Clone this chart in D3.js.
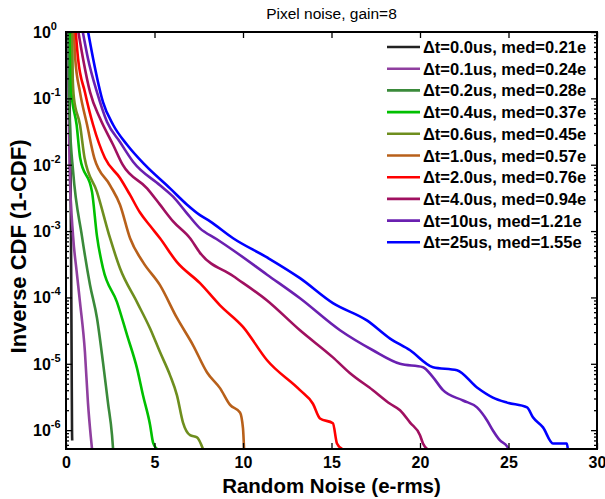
<!DOCTYPE html>
<html><head><meta charset="utf-8">
<script src="https://cdn.jsdelivr.net/npm/d3@7"></script>
<style>body{margin:0;background:#fff}svg{display:block}text{font-family:"Liberation Sans",Arial,sans-serif}</style>
</head><body>
<svg id="c" width="605" height="499"></svg>
<script>
const labels = ["\u0394t=0.0us, med=0.21e","\u0394t=0.1us, med=0.24e","\u0394t=0.2us, med=0.28e","\u0394t=0.4us, med=0.37e","\u0394t=0.6us, med=0.45e","\u0394t=1.0us, med=0.57e","\u0394t=2.0us, med=0.76e","\u0394t=4.0us, med=0.94e","\u0394t=10us, med=1.21e","\u0394t=25us, med=1.55e"];
const colors = ["#222222","#8f3f9f","#3a8a3a","#00c000","#6e8e1e","#b8601a","#ff0000","#a01060","#6a20b0","#0000ff"];
const xTicks = [0,5,10,15,20,25,30];
const yExponents = [0,-1,-2,-3,-4,-5,-6];

const s00 = [[0.1,1],[0.2,0.1],[0.25,0.01],[0.28,1e-3],[0.3,1e-4],[0.32,1e-5],[0.34,1e-6],[0.35,7e-7]];
const s01 = [[0.1,1],[0.14,0.1],[0.2,0.01],[0.4,8.4e-4],[0.6,2.5e-4],[0.79,8.5e-5],[1.07,1.5e-5],[1.24,2.6e-6],[1.4,8e-7],[1.47,5.2e-7]];
const s02 = [[0.15,1],[0.17,0.1],[0.22,0.04],[0.4,0.008],[0.9,8.4e-4],[1.36,1.53e-4],[1.75,4.9e-5],[2.09,1.05e-5],[2.37,2.6e-6],[2.6,8.4e-7],[2.66,5.2e-7]];
const s04 = [[0.25,1],[0.3,0.124],[0.6,0.04],[0.8,0.0126],[1.47,0.0039],[1.75,8.4e-4],[2.09,2.75e-4],[2.88,8.5e-5],[3.45,2.7e-5],[4.01,8.6e-6],[4.35,3.35e-6],[4.75,1.2e-6],[4.92,6.5e-7],[5.14,5.2e-7]];
const s06 = [[0.35,1],[0.38,0.2],[0.45,0.1],[0.79,0.04],[1.05,0.0126],[1.75,0.0039],[2.49,7.8e-4],[3.05,2.75e-4],[4.01,8.5e-5],[4.75,3.4e-5],[5.31,1.5e-5],[5.88,6.7e-6],[6.27,3.35e-6],[6.61,1.3e-6],[7.01,8.4e-7],[7.4,7.8e-7],[7.74,5.2e-7]];
const s10 = [[0.45,1],[0.52,0.4],[0.79,0.124],[1.19,0.04],[1.6,0.0126],[2.49,0.0049],[3.05,0.0025],[3.62,7.8e-4],[4.35,3.4e-4],[5.31,1.53e-4],[6.27,4.9e-5],[7.18,1.9e-5],[7.97,7.4e-6],[8.7,4.3e-6],[9.27,2.4e-6],[9.83,1.85e-6],[10.0,1.06e-6],[10.06,5.2e-7]];
const s20 = [[0.55,1],[0.68,0.4],[1.07,0.124],[1.53,0.04],[2.2,0.0126],[3.05,0.0063],[3.62,0.0035],[4.18,0.0019],[4.75,0.0012],[5.31,7.8e-4],[6.27,3.4e-4],[7.57,1.64e-4],[8.7,7.6e-5],[10.0,3.6e-5],[11.36,1.13e-5],[13.22,4.0e-6],[13.95,2.5e-6],[14.35,1.5e-6],[15.08,1.27e-6],[15.31,6.3e-7],[15.6,5.2e-7]];
const s40 = [[0.7,1],[0.96,0.4],[1.36,0.124],[1.92,0.05],[2.66,0.02],[3.2,0.01],[4.58,0.0044],[5.31,0.0025],[6.05,0.0014],[7.01,7.8e-4],[7.57,4.7e-4],[9.44,2.1e-4],[11.36,9.0e-5],[13.22,3.2e-5],[15.08,1.25e-5],[16.05,7.2e-6],[17.34,4.0e-6],[18.31,2.5e-6],[18.87,2.0e-6],[19.44,1.3e-6],[20.0,8.4e-7],[20.17,6.3e-7],[20.4,5.2e-7]];
const s100 = [[0.95,1],[1.24,0.4],[1.75,0.124],[2.32,0.044],[3.05,0.022],[3.8,0.011],[5.31,0.0049],[6.05,0.0033],[6.8,0.0019],[7.57,0.0011],[8.5,7.6e-4],[9.44,5.15e-4],[11.36,2.2e-4],[13.22,9.7e-5],[15.48,3.2e-5],[17.34,1.6e-5],[18.87,1.0e-5],[20.17,8.9e-6],[20.73,6.3e-6],[21.3,4.0e-6],[22.43,2.8e-6],[23.22,2.2e-6],[23.79,1.4e-6],[24.12,9.9e-7],[24.52,7.0e-7],[24.92,5.7e-7],[25.0,5.2e-7]];
const s250 = [[1.25,1],[1.53,0.4],[2.09,0.088],[2.66,0.04],[3.45,0.02],[4.45,0.01],[5.88,0.0044],[6.84,0.0025],[7.57,0.00174],[8.14,0.0014],[9.44,7.8e-4],[11.36,4.0e-4],[13.22,1.95e-4],[15.08,8.2e-5],[17.0,4.5e-5],[18.31,2.4e-5],[19.44,1.6e-5],[20.73,8.9e-6],[22.09,8.0e-6],[23.22,4.4e-6],[24.12,3.1e-6],[24.92,2.6e-6],[26.05,2.2e-6],[26.38,1.56e-6],[26.95,1.1e-6],[27.51,6.3e-7],[28.3,6.3e-7],[28.35,5.2e-7]];
const series = [s00,s01,s02,s04,s06,s10,s20,s40,s100,s250];

const L=66,R=597,T=32,B=449;
const svg = d3.select("#c");
const x = d3.scaleLinear().domain([0,30]).range([L,R]);
const y = d3.scaleLog().domain([5.2e-7,1]).range([B,T]);

svg.append("defs").append("clipPath").attr("id","clip").append("rect")
  .attr("x",L).attr("y",T).attr("width",R-L).attr("height",B-T);

const line = d3.line().x(d=>x(d[0])).y(d=>y(d[1])).curve(d3.curveMonotoneX);
const g = svg.append("g").attr("clip-path","url(#clip)");
series.forEach((s,i)=>{
  g.append("path").attr("d",line(s)).attr("fill","none")
   .attr("stroke",colors[i]).attr("stroke-width",2.6).attr("stroke-linejoin","round");
});

// axes
const majorY = yExponents.map(e=>Math.pow(10,e));
const minorY = [];
for(let e=-7;e<0;e++){for(let k=2;k<10;k++){const v=k*Math.pow(10,e); if(v>=5.2e-7&&v<1) minorY.push(v);}}

function styleAx(sel){sel.select(".domain").remove(); sel.selectAll("line").attr("stroke","#000").attr("stroke-width",1.3);}
svg.append("g").attr("transform",`translate(0,${B})`).call(d3.axisBottom(x).tickValues(xTicks).tickSize(-6).tickFormat(d3.format("d")))
  .call(styleAx).call(s=>s.selectAll("text").attr("dy",0).attr("y",19).attr("font-size",16).attr("font-weight","bold").attr("fill","#000"));
svg.append("g").attr("transform",`translate(0,${T})`).call(d3.axisTop(x).tickValues(xTicks).tickSize(-6).tickFormat(""))
  .call(styleAx);
svg.append("g").attr("transform",`translate(${L},0)`).call(d3.axisLeft(y).tickValues(majorY).tickSize(-6).tickFormat(""))
  .call(styleAx);
svg.append("g").attr("transform",`translate(${L},0)`).call(d3.axisLeft(y).tickValues(minorY).tickSize(-3).tickFormat(""))
  .call(styleAx);
svg.append("g").attr("transform",`translate(${R},0)`).call(d3.axisRight(y).tickValues(majorY).tickSize(-6).tickFormat(""))
  .call(styleAx);
svg.append("g").attr("transform",`translate(${R},0)`).call(d3.axisRight(y).tickValues(minorY).tickSize(-3).tickFormat(""))
  .call(styleAx);

// y tick labels with superscripts
yExponents.forEach(e=>{
  const t = svg.append("text").attr("x",33).attr("y",y(Math.pow(10,e))+6)
    .attr("font-size",16).attr("font-weight","bold").attr("fill","#000");
  t.append("tspan").text("10");
  t.append("tspan").attr("dy",-8).attr("font-size",11).text(String(e));
});

svg.append("rect").attr("x",L).attr("y",T).attr("width",R-L).attr("height",B-T)
  .attr("fill","none").attr("stroke","#000").attr("stroke-width",2);

// title & labels
svg.append("text").attr("x",(L+R)/2).attr("y",19).attr("text-anchor","middle")
  .attr("font-size",15.5).attr("fill","#000").text("Pixel noise, gain=8");
svg.append("text").attr("x",(L+R)/2).attr("y",493).attr("text-anchor","middle")
  .attr("font-size",20.5).attr("font-weight","bold").attr("fill","#000").text("Random Noise (e-rms)");
svg.append("text").attr("transform",`translate(26,${(T+B)/2+6}) rotate(-90)`).attr("text-anchor","middle")
  .attr("font-size",22).attr("font-weight","bold").attr("fill","#000").text("Inverse CDF (1-CDF)");

// legend
const lg = svg.append("g");
labels.forEach((lab,i)=>{
  const yy = 47 + i*21.7;
  lg.append("line").attr("x1",387).attr("x2",420).attr("y1",yy).attr("y2",yy)
    .attr("stroke",colors[i]).attr("stroke-width",2.6);
  lg.append("text").attr("x",423).attr("y",yy+6).attr("font-size",16.5).attr("font-weight","bold")
    .attr("fill","#000").text(lab);
});
</script>
</body></html>
